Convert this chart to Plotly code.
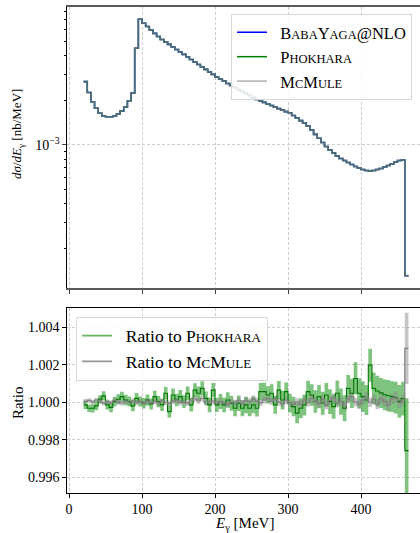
import plotly.graph_objects as go

# ---------------- data ----------------
bin_edges = list(range(20, 470, 5))  # 89 bins, 20 ... 465 MeV

xsec_babayaga = [
    2.68e-3, 2.26e-3, 1.96e-3, 1.77e-3, 1.64e-3, 1.57e-3, 1.55e-3, 1.55e-3,
    1.57e-3, 1.62e-3, 1.70e-3, 1.81e-3, 1.99e-3, 2.24e-3, 4.50e-3, 7.07e-3,
    6.64e-3, 6.32e-3, 5.98e-3, 5.67e-3, 5.41e-3, 5.16e-3, 4.97e-3, 4.78e-3,
    4.59e-3, 4.42e-3, 4.25e-3, 4.09e-3, 3.93e-3, 3.78e-3, 3.64e-3, 3.50e-3,
    3.37e-3, 3.24e-3, 3.11e-3, 3.00e-3,
    2.88e-3, 2.79e-3, 2.71e-3, 2.60e-3, 2.52e-3, 2.45e-3, 2.37e-3, 2.30e-3,
    2.23e-3, 2.16e-3, 2.09e-3, 2.03e-3, 1.98e-3, 1.94e-3, 1.89e-3, 1.85e-3,
    1.81e-3, 1.76e-3, 1.72e-3, 1.68e-3,
    1.65e-3, 1.58e-3, 1.52e-3, 1.46e-3, 1.41e-3, 1.34e-3, 1.26e-3, 1.18e-3,
    1.11e-3, 1.04e-3, 9.77e-4, 9.25e-4, 8.83e-4, 8.43e-4, 8.11e-4, 7.86e-4,
    7.62e-4, 7.38e-4, 7.16e-4, 6.99e-4,
    6.83e-4, 6.73e-4, 6.67e-4, 6.73e-4, 6.83e-4, 6.94e-4, 7.10e-4, 7.27e-4,
    7.44e-4, 7.68e-4, 7.86e-4, 7.92e-4, 1.31e-4,
]

ratio_phokhara = [
    0.99986, 0.99968, 0.99968, 0.99981, 1.00016, 1.00034, 0.99986, 0.99973,
    1.00004, 1.00016, 1.00030, 1.00012, 1.00004, 0.99981, 1.00021, 1.00004,
    0.99995, 1.00012, 0.99991, 1.00030, 1.00004, 0.99986, 1.00048, 0.99950,
    1.00039, 1.00012, 1.00030, 1.00004, 1.00048, 0.99986, 1.00065, 1.00048,
    1.00074, 1.00021, 0.99986, 1.00065,
    0.99986, 1.00004, 0.99986, 1.00012, 0.99995, 0.99968, 0.99995, 0.99968,
    0.99986, 0.99968, 0.99986, 0.99968, 1.00057, 1.00057, 1.00039, 1.00048,
    0.99986, 1.00065, 1.00012, 1.00057,
    0.99995, 0.99977, 0.99942, 0.99968, 0.99986, 1.00057, 1.00039, 1.00004,
    1.00030, 0.99995, 1.00039, 1.00004, 0.99977, 1.00048, 1.00004, 0.99968,
    1.00074, 1.00048, 1.00127, 1.00048,
    1.00030, 1.00012, 1.00198, 1.00074, 1.00060, 1.00050, 1.00040, 1.00035,
    1.00030, 1.00025, 1.00005, 1.00020, 0.99742,
]
err_phokhara = [
    0.00022, 0.00020, 0.00022, 0.00024, 0.00022, 0.00025, 0.00024, 0.00026,
    0.00025, 0.00027, 0.00026, 0.00028, 0.00027, 0.00029, 0.00028, 0.00027,
    0.00028, 0.00030, 0.00029, 0.00031, 0.00030, 0.00032, 0.00033, 0.00031,
    0.00034, 0.00033, 0.00035, 0.00034, 0.00036, 0.00035, 0.00037, 0.00036,
    0.00038, 0.00037, 0.00039, 0.00038,
    0.00038, 0.00040, 0.00039, 0.00041, 0.00040, 0.00042, 0.00041, 0.00043,
    0.00044, 0.00043, 0.00045, 0.00044, 0.00046, 0.00047, 0.00046, 0.00048,
    0.00047, 0.00049, 0.00050, 0.00049,
    0.00050, 0.00052, 0.00054, 0.00053, 0.00056, 0.00058, 0.00057, 0.00060,
    0.00062, 0.00061, 0.00064, 0.00066, 0.00065, 0.00068, 0.00070, 0.00069,
    0.00072, 0.00078, 0.00086, 0.00080,
    0.00082, 0.00080, 0.00088, 0.00085, 0.00082, 0.00080, 0.00082, 0.00084,
    0.00082, 0.00085, 0.00087, 0.00090, 0.00280,
]

ratio_mcmule = [
    1.00005, 1.00010, 1.00002, 1.00012, 1.00008, 0.99995, 1.00003, 0.99998,
    1.00010, 1.00002, 0.99996, 1.00006, 1.00000, 1.00008, 0.99998, 1.00004,
    0.99995, 1.00006, 0.99998, 1.00004, 0.99996, 1.00008, 1.00000, 0.99993,
    1.00005, 1.00010, 0.99998, 1.00003, 0.99995, 1.00012, 1.00018, 1.00008,
    1.00020, 1.00002, 0.99996, 1.00006,
    0.99998, 1.00004, 0.99994, 0.99990, 1.00002, 0.99996, 1.00008, 0.99994,
    1.00010, 1.00004, 1.00018, 1.00006, 0.99998, 1.00012, 1.00020, 1.00005,
    1.00016, 1.00002, 0.99992, 1.00008,
    0.99994, 0.99988, 1.00002, 0.99990, 1.00012, 0.99998, 1.00020, 1.00006,
    0.99992, 1.00015, 0.99985, 1.00010, 1.00025, 0.99995, 1.00005, 0.99980,
    1.00018, 1.00030, 1.00002, 0.99990,
    1.00012, 1.00028, 1.00000, 1.00015, 0.99990, 1.00020, 1.00005, 0.99985,
    1.00018, 1.00028, 0.99998, 1.00010, 1.00288,
]
err_mcmule = [
    0.00012, 0.00011, 0.00012, 0.00012, 0.00013, 0.00012, 0.00012, 0.00013,
    0.00012, 0.00013, 0.00013, 0.00012, 0.00013, 0.00013, 0.00014, 0.00013,
    0.00013, 0.00014, 0.00013, 0.00014, 0.00014, 0.00013, 0.00014, 0.00015,
    0.00014, 0.00015, 0.00014, 0.00015, 0.00015, 0.00016, 0.00015, 0.00016,
    0.00015, 0.00016, 0.00016, 0.00017,
    0.00016, 0.00017, 0.00016, 0.00017, 0.00017, 0.00018, 0.00017, 0.00018,
    0.00017, 0.00018, 0.00018, 0.00019, 0.00018, 0.00019, 0.00018, 0.00019,
    0.00019, 0.00020, 0.00019, 0.00020,
    0.00019, 0.00020, 0.00020, 0.00021, 0.00020, 0.00021, 0.00021, 0.00022,
    0.00021, 0.00022, 0.00022, 0.00023, 0.00022, 0.00023, 0.00023, 0.00024,
    0.00023, 0.00024, 0.00024, 0.00025,
    0.00025, 0.00026, 0.00025, 0.00026, 0.00027, 0.00026, 0.00027, 0.00028,
    0.00027, 0.00028, 0.00029, 0.00030, 0.00190,
]

xsec_phokhara = [b / r for b, r in zip(xsec_babayaga, ratio_phokhara)]
xsec_mcmule = [b / r for b, r in zip(xsec_babayaga, ratio_mcmule)]

x_ticks = [0, 100, 200, 300, 400]
ratio_ticks = [0.996, 0.998, 1.000, 1.002, 1.004]


def steps(vals):
    return list(vals) + [vals[-1]]


def sc(text, size):
    return "<span style='font-size:%gpx'>%s</span>" % (size, text)


PAD = "\u2002"
name_bby = PAD + "B" + sc("ABA", 12.5) + "Y" + sc("AGA", 12.5) + "@NLO"
name_pho = PAD + "P" + sc("HOKHARA", 12.5)
name_mcm = PAD + "M" + sc("C", 12.5) + "M" + sc("ULE", 12.5)
name_rpho = PAD + "Ratio to P" + sc("HOKHARA", 13)
name_rmcm = PAD + "Ratio to M" + sc("C", 13) + "M" + sc("ULE", 13)

FONT = "Liberation Serif"

fig = go.Figure()

# ---------- top panel ----------
fig.add_trace(go.Scatter(x=bin_edges, y=steps(xsec_babayaga), mode="lines",
                         line=dict(color="rgb(0,0,255)", width=1.6, shape="hv"),
                         showlegend=False, xaxis="x", yaxis="y"))
fig.add_trace(go.Scatter(x=bin_edges, y=steps(xsec_phokhara), mode="lines",
                         line=dict(color="rgba(0,128,0,0.64)", width=1.6, shape="hv"),
                         showlegend=False, xaxis="x", yaxis="y"))
fig.add_trace(go.Scatter(x=bin_edges, y=steps(xsec_mcmule), mode="lines",
                         line=dict(color="rgba(128,128,128,0.6)", width=1.6, shape="hv"),
                         showlegend=False, xaxis="x", yaxis="y"))
# legend handles
for nm, col in [(name_bby, "rgb(0,0,255)"), (name_pho, "rgb(0,128,0)"),
                (name_mcm, "rgb(175,175,175)")]:
    fig.add_trace(go.Scatter(x=[None], y=[None], mode="lines", name=nm,
                             line=dict(color=col, width=1.5),
                             xaxis="x", yaxis="y", legend="legend"))

# ---------- bottom panel ----------
lo_p = [r - e for r, e in zip(ratio_phokhara, err_phokhara)]
hi_p = [r + e for r, e in zip(ratio_phokhara, err_phokhara)]
lo_m = [r - e for r, e in zip(ratio_mcmule, err_mcmule)]
hi_m = [r + e for r, e in zip(ratio_mcmule, err_mcmule)]

fig.add_trace(go.Scatter(x=bin_edges, y=steps(lo_p), mode="lines",
                         line=dict(width=0, shape="hv"), showlegend=False,
                         hoverinfo="skip", xaxis="x2", yaxis="y2"))
fig.add_trace(go.Scatter(x=bin_edges, y=steps(hi_p), mode="lines", fill="tonexty",
                         fillcolor="rgba(20,145,20,0.55)",
                         line=dict(width=0, shape="hv"), showlegend=False,
                         hoverinfo="skip", xaxis="x2", yaxis="y2"))
fig.add_trace(go.Scatter(x=bin_edges, y=steps(lo_m), mode="lines",
                         line=dict(width=0, shape="hv"), showlegend=False,
                         hoverinfo="skip", xaxis="x2", yaxis="y2"))
fig.add_trace(go.Scatter(x=bin_edges, y=steps(hi_m), mode="lines", fill="tonexty",
                         fillcolor="rgba(140,140,140,0.5)",
                         line=dict(width=0, shape="hv"), showlegend=False,
                         hoverinfo="skip", xaxis="x2", yaxis="y2"))
fig.add_trace(go.Scatter(x=bin_edges, y=steps(ratio_phokhara), mode="lines",
                         line=dict(color="rgb(0,120,0)", width=1.1, shape="hv"),
                         showlegend=False, xaxis="x2", yaxis="y2"))
fig.add_trace(go.Scatter(x=bin_edges, y=steps(ratio_mcmule), mode="lines",
                         line=dict(color="rgb(128,128,128)", width=1.2, shape="hv"),
                         showlegend=False, xaxis="x2", yaxis="y2"))
for nm, col in [(name_rpho, "rgb(100,180,100)"),
                (name_rmcm, "rgb(150,150,150)")]:
    fig.add_trace(go.Scatter(x=[None], y=[None], mode="lines", name=nm,
                             line=dict(color=col, width=1.8),
                             xaxis="x2", yaxis="y2", legend="legend2"))

grid = dict(showgrid=True, gridcolor="rgb(205,205,205)", griddash="3px,2px", gridwidth=1)
xr = [-2.74, 480.8]

fig.update_layout(
    width=420, height=533,
    margin=dict(l=67, r=0, t=7, b=40),
    paper_bgcolor="white", plot_bgcolor="white",
    font=dict(family=FONT, size=14, color="black"),
    xaxis=dict(domain=[0, 1], anchor="y", range=xr, tickvals=x_ticks,
               showticklabels=False, ticks="outside", ticklen=3.5, tickwidth=1,
               tickcolor="rgb(60,60,60)",
               showline=True, mirror=True, linecolor="rgb(90,90,90)", linewidth=2,
               zeroline=False, **grid),
    yaxis=dict(domain=[0.4218, 1], anchor="x", type="log", range=[-3.966, -2.068],
               tickvals=[1e-3], ticktext=["10<sup>−3</sup>"],
               ticks="outside", ticklen=3.5, tickwidth=1,
               showline=True, linecolor="black", linewidth=1.2, zeroline=False,
               minor=dict(tickmode="array",
                          tickvals=[2e-4, 3e-4, 4e-4, 5e-4, 6e-4, 7e-4, 8e-4, 9e-4,
                                    2e-3, 3e-3, 4e-3, 5e-3, 6e-3, 7e-3, 8e-3],
                          ticks="outside", ticklen=2, tickwidth=0.8,
                          tickcolor="black", showgrid=False),
               **grid),
    xaxis2=dict(domain=[0, 1], anchor="y2", range=xr, tickvals=x_ticks,
                ticks="outside", ticklen=3.5, tickwidth=1, tickcolor="black",
                tickfont=dict(size=14),
                showline=True, mirror=True, linecolor="black", linewidth=1.2,
                zeroline=False, **grid),
    yaxis2=dict(domain=[0, 0.3807], anchor="x2", range=[0.99516, 1.00503],
                tickvals=ratio_ticks, tickformat=".3f",
                ticks="outside", ticklen=3.5, tickwidth=1, tickcolor="black",
                showline=True, linecolor="black", linewidth=1.2, zeroline=False,
                **grid),
    legend=dict(x=0.4646, y=0.9856, xanchor="left", yanchor="top",
                traceorder="normal",
                bgcolor="rgba(255,255,255,0.85)", bordercolor="rgb(215,215,215)",
                borderwidth=1, font=dict(family=FONT, size=16.5),
                tracegroupgap=0, itemwidth=30),
    legend2=dict(x=0.0255, y=0.3628, xanchor="left", yanchor="top",
                 traceorder="normal",
                 bgcolor="rgba(255,255,255,0.85)", bordercolor="rgb(215,215,215)",
                 borderwidth=1, font=dict(family=FONT, size=17.5),
                 tracegroupgap=0, itemwidth=30),
    annotations=[
        dict(text="<i>dσ</i>/<i>dE</i><sub>γ</sub> [nb/MeV]", xref="paper", yref="paper",
             x=-0.139, y=0.7387, textangle=-90, showarrow=False,
             font=dict(family=FONT, size=13), xanchor="center", yanchor="middle"),
        dict(text="Ratio", xref="paper", yref="paper",
             x=-0.139, y=0.187, textangle=-90, showarrow=False,
             font=dict(family=FONT, size=15), xanchor="center", yanchor="middle"),
        dict(text="<i>E</i><sub>γ</sub> [MeV]", xref="paper", yref="paper",
             x=0.504, y=-0.0635, showarrow=False, borderpad=0,
             font=dict(family=FONT, size=15), xanchor="center", yanchor="middle"),
    ],
)

fig.write_html("out.html")
